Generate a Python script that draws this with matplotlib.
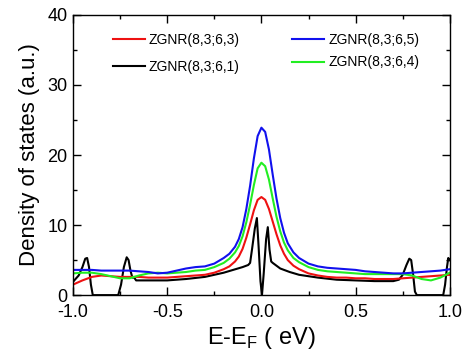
import matplotlib
matplotlib.use("Agg")
import matplotlib.pyplot as plt
from matplotlib.ticker import MultipleLocator

plt.rcParams['font.family'] = ['Liberation Sans', 'DejaVu Sans']

# Shared energy grid for the smooth curves
energy = [-1.0, -0.95, -0.9, -0.85, -0.8, -0.75, -0.7, -0.65, -0.6, -0.55, -0.5,
          -0.45, -0.4, -0.35, -0.3, -0.25, -0.2, -0.17, -0.14, -0.12, -0.1, -0.08,
          -0.06, -0.04, -0.02, 0.0, 0.02, 0.04, 0.06, 0.08, 0.1, 0.12, 0.14, 0.17,
          0.2, 0.25, 0.3, 0.35, 0.4, 0.45, 0.5, 0.55, 0.6, 0.65, 0.7, 0.75, 0.8,
          0.85, 0.9, 0.95, 1.0]

dos_651 = [3.6, 3.6, 3.6, 3.5, 3.5, 3.5, 3.5, 3.4, 3.3, 3.1, 3.2,
           3.5, 3.8, 4.0, 4.1, 4.5, 5.3, 5.9, 6.9, 8.0, 9.7, 12.3,
           15.6, 19.5, 22.7, 23.9, 23.3, 20.8, 17.2, 13.8, 11.0, 8.9, 7.4, 6.1,
           5.3, 4.5, 4.1, 3.9, 3.8, 3.7, 3.6, 3.4, 3.3, 3.2, 3.1, 3.1, 3.2,
           3.3, 3.4, 3.5, 3.7]

dos_654 = [3.1, 3.2, 3.2, 3.0, 2.7, 2.4, 2.4, 2.8, 3.1, 3.2, 3.1,
           3.2, 3.3, 3.5, 3.6, 4.0, 4.6, 5.2, 6.1, 7.0, 8.4, 10.4,
           12.9, 15.7, 18.1, 18.9, 18.4, 16.5, 13.8, 11.2, 9.1, 7.5, 6.4, 5.3,
           4.7, 4.0, 3.6, 3.4, 3.3, 3.2, 3.1, 3.0, 3.0, 3.0, 3.0, 3.0, 2.8,
           2.3, 2.1, 2.5, 3.2]

dos_653 = [1.5, 2.1, 2.6, 2.8, 2.7, 2.6, 2.6, 2.6, 2.5, 2.5, 2.5,
           2.6, 2.7, 2.8, 2.9, 3.2, 3.7, 4.1, 4.8, 5.5, 6.6, 8.2,
           10.1, 12.1, 13.6, 14.0, 13.6, 12.3, 10.5, 8.7, 7.1, 5.9, 5.0, 4.2,
           3.7, 3.1, 2.8, 2.6, 2.5, 2.5, 2.4, 2.4, 2.3, 2.3, 2.3, 2.4, 2.5,
           2.6, 2.7, 2.8, 2.9]

# ZGNR(8,3;6,1) has sharp features, own grid
energy_1 = [-1.0, -0.97, -0.95, -0.935, -0.925, -0.915, -0.905, -0.895, -0.76, -0.745,
            -0.73, -0.715, -0.705, -0.695, -0.685, -0.675, -0.665, -0.6, -0.5, -0.4,
            -0.3, -0.25, -0.2, -0.15, -0.1, -0.07, -0.06, -0.05, -0.035, -0.024,
            -0.015, -0.005, 0.003, 0.012, 0.025, 0.034, 0.043, 0.052, 0.06, 0.08,
            0.1, 0.15, 0.2, 0.3, 0.4, 0.5, 0.6, 0.7, 0.73, 0.75,
            0.77, 0.785, 0.795, 0.805, 0.815, 0.825, 0.965, 0.975, 0.985, 0.992, 1.0]
dos_631 = [1.9, 2.8, 4.0, 5.2, 5.3, 4.0, 1.5, 0.0, 0.0, 1.5,
           4.0, 5.4, 5.0, 3.5, 2.5, 2.5, 2.1, 2.1, 2.1, 2.3,
           2.6, 2.9, 3.2, 3.6, 4.0, 4.3, 4.6, 6.5, 9.5, 11.0,
           7.0, 2.0, 0.0, 3.0, 8.0, 9.7, 6.5, 4.8, 4.6, 4.2,
           3.8, 3.3, 2.9, 2.5, 2.2, 2.1, 2.0, 2.0, 2.2, 2.9,
           4.3, 5.2, 5.0, 3.0, 0.5, 0.0, 0.0, 1.5, 4.0, 5.3, 5.0]

x_ticks = [-1.0, -0.5, 0.0, 0.5, 1.0]
y_ticks = [0, 10, 20, 30, 40]

fig = plt.figure(figsize=(4.71, 3.63), dpi=100)
ax = fig.add_axes([0.155, 0.187, 0.800, 0.772])

l_black, = ax.plot(energy_1, dos_631, color='black', lw=1.5, label='ZGNR(8,3;6,1)')
l_red, = ax.plot(energy, dos_653, color='#ee1111', lw=1.5, label='ZGNR(8,3;6,3)')
l_green, = ax.plot(energy, dos_654, color='#22ee22', lw=1.5, label='ZGNR(8,3;6,4)')
l_blue, = ax.plot(energy, dos_651, color='#1111ee', lw=1.5, label='ZGNR(8,3;6,5)')

ax.set_xlim(-1.0, 1.0)
ax.set_ylim(0, 40)
ax.set_xticks(x_ticks)
ax.set_xticklabels([f"{v:.1f}" for v in x_ticks])
ax.set_yticks(y_ticks)
ax.xaxis.set_minor_locator(MultipleLocator(0.25))
ax.yaxis.set_minor_locator(MultipleLocator(5))
ax.tick_params(which='both', direction='in', top=True, right=True, labelsize=13, width=1)
ax.tick_params(which='major', length=6)
ax.tick_params(which='minor', length=3)
ax.tick_params(axis='x', which='major', pad=6.5)
ax.tick_params(axis='y', which='major', pad=4)
for s in ax.spines.values():
    s.set_linewidth(1.0)

ax.set_xlabel('E-E$_\\mathregular{F}$ ( eV)', fontsize=17, labelpad=3)
ax.set_ylabel('Density of states (a.u.)', fontsize=16, labelpad=5)

leg1 = ax.legend(handles=[l_red, l_black], loc='upper left', bbox_to_anchor=(0.105, 0.935),
                 frameon=False, fontsize=10, handlelength=2.3, handletextpad=0.3,
                 labelspacing=0.95, borderpad=0, borderaxespad=0)
ax.add_artist(leg1)
ax.legend(handles=[l_blue, l_green], loc='upper left', bbox_to_anchor=(0.582, 0.935),
          frameon=False, fontsize=10, handlelength=2.3, handletextpad=0.3,
          labelspacing=0.6, borderpad=0, borderaxespad=0)

fig.savefig('out.png', dpi=100)
